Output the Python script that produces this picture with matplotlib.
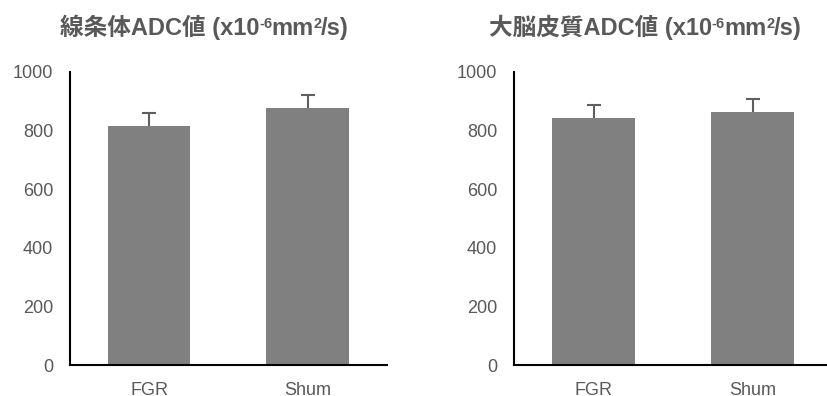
import matplotlib
matplotlib.use("Agg")
import matplotlib.pyplot as plt

categories = ["FGR", "Shum"]
striatum_values = [815, 878]
striatum_errors = [44, 44]
cortex_values = [843, 864]
cortex_errors = [45, 44]
title_prefixes = ["線条体ADC値 (x10", "大脳皮質ADC値 (x10"]
yticks = [0, 200, 400, 600, 800, 1000]

FAM = ["Liberation Sans", "Noto Sans CJK JP", "DejaVu Sans"]
plt.rcParams["font.family"] = FAM

fig = plt.figure(figsize=(8.27, 3.96), dpi=100)
W, H = 827, 396
positions = [(70, 316.7), (514, 318)]
title_x = [204, 645]
datasets = [(striatum_values, striatum_errors), (cortex_values, cortex_errors)]

for i, ((vals, errs), (left, width)) in enumerate(zip(datasets, positions)):
    ax = fig.add_axes([left / W, 31 / H, width / W, 293 / H])
    x = list(range(len(categories)))
    ax.errorbar(x, vals, yerr=errs, fmt="none",
                ecolor="#5f5f5f", elinewidth=1.5, capsize=5, capthick=1.5, zorder=1)
    ax.bar(x, vals, width=0.52, color="#808080", zorder=2)
    ax.set_xlim(-0.5, 1.5)
    ax.set_ylim(0, 1000)
    ax.set_yticks(yticks)
    ax.set_xticks(x)
    ax.set_xticklabels(categories)
    ax.tick_params(axis="both", length=0, labelsize=13, labelcolor="#595959")
    ax.tick_params(axis="y", pad=12)
    ax.tick_params(axis="x", pad=12)
    for s in ["top", "right"]:
        ax.spines[s].set_visible(False)
    for s in ["left", "bottom"]:
        ax.spines[s].set_color("black")
        ax.spines[s].set_linewidth(1.5)

# titles built from pieces so superscripts look like the reference
renderer = fig.canvas.get_renderer()
main_size, sup_size = 17, 10.5
for i, prefix in enumerate(title_prefixes):
    pieces = [(prefix, False), ("-6", True), ("mm", False), ("2", True), ("/s)", False)]
    texts = []
    for s, sup in pieces:
        t = fig.text(0, 0, s, fontsize=sup_size if sup else main_size,
                     fontweight="bold", color="#595959", family=FAM,
                     ha="left", va="baseline")
        texts.append((t, sup))
    widths = [t.get_window_extent(renderer).width - 0.5 for t, _ in texts]
    total = sum(widths)
    xpos = title_x[i] - total / 2
    base_y = H - 35
    for (t, sup), w in zip(texts, widths):
        y = base_y + (7 if sup else 0)
        t.set_position((xpos / W, y / H))
        xpos += w

fig.savefig("out.png", dpi=100)
